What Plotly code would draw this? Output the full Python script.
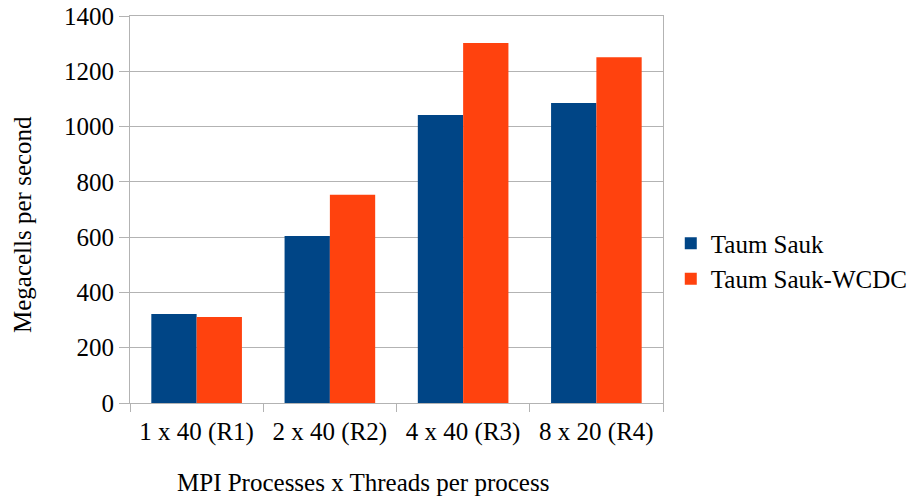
import plotly.graph_objects as go

categories = ["1 x 40 (R1)", "2 x 40 (R2)", "4 x 40 (R3)", "8 x 20 (R4)"]
taum_sauk = [322, 604, 1042, 1085]
taum_sauk_wcdc = [311, 753, 1302, 1251]
y_ticks = [0, 200, 400, 600, 800, 1000, 1200, 1400]

FONT = "Liberation Serif"
FS = 25
GRID = "#b3b3b3"

fig = go.Figure()
fig.add_trace(go.Bar(x=categories, y=taum_sauk, name="Taum Sauk",
                     marker=dict(color="#004586", line=dict(width=0))))
fig.add_trace(go.Bar(x=categories, y=taum_sauk_wcdc, name="Taum Sauk-WCDC",
                     marker=dict(color="#ff420e", line=dict(width=0))))

fig.update_layout(
    width=912, height=497,
    margin=dict(l=130, r=249, t=16, b=94),
    paper_bgcolor="white", plot_bgcolor="white",
    barmode="group", bargap=0.32, bargroupgap=0,
    font=dict(family=FONT, size=FS, color="black"),
    showlegend=True,
    legend=dict(xref="container", yref="container", x=0.7355, y=0.475,
                xanchor="left", yanchor="middle",
                font=dict(family=FONT, size=FS, color="black"),
                tracegroupgap=0, itemclick=False),
    xaxis=dict(type="category", tickson="boundaries", ticks="outside",
               ticklen=8, tickcolor=GRID, showline=True, linecolor=GRID,
               linewidth=1, mirror=True, showgrid=False, automargin=False,
               ticklabelstandoff=6,
               tickfont=dict(family=FONT, size=FS, color="black")),
    yaxis=dict(range=[0, 1400], tickvals=y_ticks, ticks="outside",
               ticklen=10, tickcolor=GRID, showline=True, linecolor=GRID,
               linewidth=1, mirror=True, showgrid=True, gridcolor=GRID,
               gridwidth=1, zeroline=False, automargin=False,
               tickfont=dict(family=FONT, size=FS, color="black")),
    annotations=[
        dict(text="MPI Processes x Threads per process", xref="paper",
             yref="paper", x=(363 - 130) / 533, y=-79 / 387,
             xanchor="center", yanchor="middle", showarrow=False,
             font=dict(family=FONT, size=FS, color="black")),
        dict(text="Megacells per second", xref="paper", yref="paper",
             x=(22 - 130) / 533, y=(403 - 225) / 387, textangle=-90,
             xanchor="center", yanchor="middle", showarrow=False,
             font=dict(family=FONT, size=FS, color="black")),
    ],
)

fig.write_html("out.html")
